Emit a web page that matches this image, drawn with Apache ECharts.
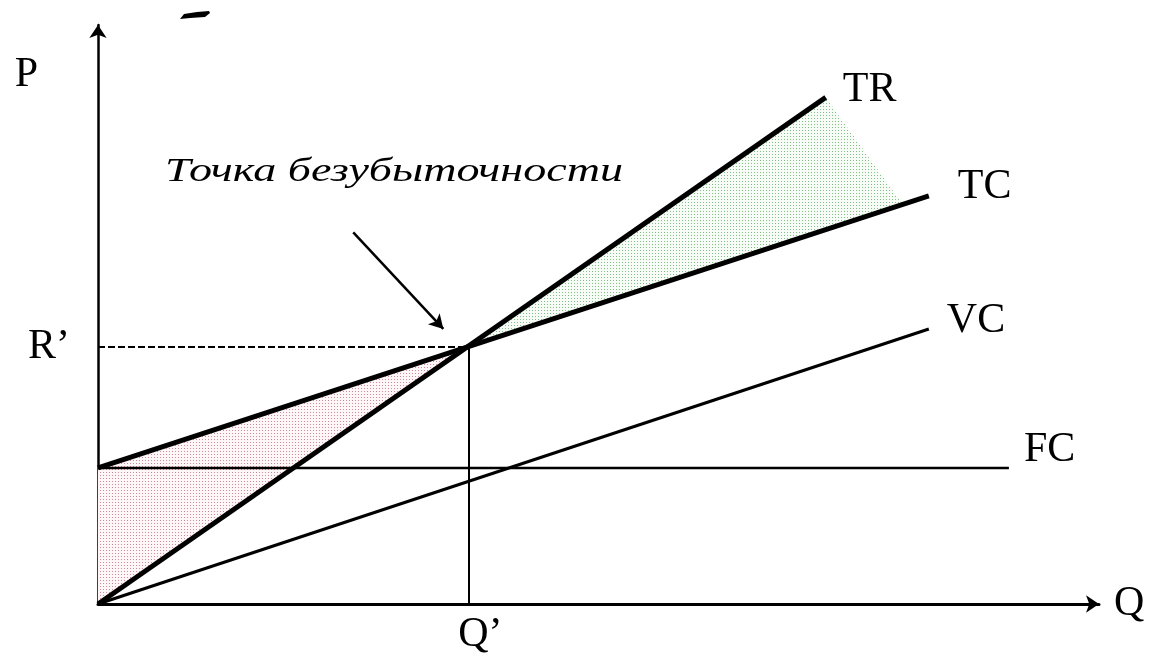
<!DOCTYPE html>
<html>
<head>
<meta charset="utf-8">
<script src="https://cdn.jsdelivr.net/npm/echarts@6/dist/echarts.min.js"></script>
<style>
  html, body { margin: 0; padding: 0; background: #fff; }
  #chart { width: 1149px; height: 656px; }
</style>
</head>
<body>
<div id="chart"></div>
<script>
// линии (Q, P)
var trLine = [[0, 0], [72.7, 87.5]];
var tcLine = [[0, 23.5], [83, 70.5]];
var vcLine = [[0, 0], [83, 47.5]];
var fcLine = [[0, 23.5], [91, 23.5]];
// точка безубыточности
var breakEven = [37, 44.4];
// заштрихованные области
var lossArea = [[0, 23.5], [0, 0], [37, 44.4]];
var profitArea = [[37, 44.4], [72.7, 87.5], [80.4, 69]];
// стрелка-указатель
var pointer = [[25.5, 64.2], [34.5, 47.5]];
var title = 'Точка безубыточности';

var FONT = '"Liberation Serif", "Times New Roman", serif';

function dots(dot, bg) {
  var c = document.createElement('canvas');
  c.width = 3; c.height = 3;
  var ctx = c.getContext('2d');
  ctx.fillStyle = bg;
  ctx.fillRect(0, 0, 3, 3);
  ctx.fillStyle = dot;
  ctx.fillRect(1, 1, 1, 1);
  return { image: c, repeat: 'repeat' };
}

function polygon(points, fill) {
  return {
    type: 'custom',
    silent: true,
    z: 1,
    data: [0],
    renderItem: function (params, api) {
      return {
        type: 'polygon',
        shape: { points: points.map(function (p) { return api.coord(p); }) },
        style: { fill: fill }
      };
    }
  };
}

function curve(name, data, width, off) {
  return {
    type: 'line',
    name: name,
    data: data,
    symbol: 'none',
    z: 3,
    lineStyle: { color: '#000', width: width },
    endLabel: {
      show: true,
      formatter: name,
      distance: 0,
      offset: off,
      color: '#000',
      fontFamily: FONT,
      fontSize: 42
    }
  };
}

var chart = echarts.init(document.getElementById('chart'));

// ширина курсивной подписи подгоняется под картинку
var mctx = document.createElement('canvas').getContext('2d');
mctx.font = 'italic 34px ' + FONT;
var titleScale = 458 / mctx.measureText(title).width;

chart.setOption({
  animation: false,
  backgroundColor: '#fff',
  grid: { left: 98, right: 50, top: 25, bottom: 52 },
  xAxis: {
    type: 'value',
    min: 0,
    max: 100,
    name: 'Q',
    nameLocation: 'end',
    nameGap: 15,
    nameTextStyle: { color: '#000', fontFamily: FONT, fontSize: 42, padding: [52, 0, 0, 0] },
    splitLine: { show: false },
    axisTick: { show: false },
    axisLine: {
      onZero: false,
      symbol: ['none', 'arrow'],
      symbolSize: [13, 13],
      lineStyle: { color: '#000', width: 3 }
    },
    axisLabel: {
      customValues: [breakEven[0]],
      formatter: function () { return 'Q’'; },
      margin: 10,
      padding: [0, 0, 0, 24],
      color: '#000',
      fontFamily: FONT,
      fontSize: 42
    }
  },
  yAxis: {
    type: 'value',
    min: 0,
    max: 100,
    name: 'P',
    nameLocation: 'end',
    nameGap: -50,
    nameTextStyle: {
      color: '#000', fontFamily: FONT, fontSize: 42,
      align: 'right', verticalAlign: 'middle', padding: [0, 60, 0, 0]
    },
    splitLine: { show: false },
    axisTick: { show: false },
    axisLine: {
      onZero: false,
      symbol: ['none', 'arrow'],
      symbolSize: [13, 13],
      lineStyle: { color: '#000', width: 2.5 }
    },
    axisLabel: {
      customValues: [breakEven[1]],
      formatter: function () { return 'R’'; },
      margin: 28,
      color: '#000',
      fontFamily: FONT,
      fontSize: 42
    }
  },
  graphic: [
    {
      type: 'text',
      x: 165,
      y: 155,
      scaleX: titleScale,
      style: {
        text: title,
        font: 'italic 34px ' + FONT,
        fill: '#000',
        textVerticalAlign: 'top'
      }
    },
    {
      type: 'polygon',
      shape: { points: [[180, 19], [184, 14], [197, 12], [209, 11], [210, 13], [205, 17], [190, 18]] },
      style: { fill: '#000' }
    }
  ],
  series: [
    polygon(lossArea, dots('rgb(205,140,155)', 'rgb(254,246,247)')),
    polygon(profitArea, dots('rgb(130,190,135)', 'rgb(247,252,247)')),
    curve('TR', trLine, 5, [17, -7]),
    curve('TC', tcLine, 5, [29, -9]),
    curve('VC', vcLine, 3, [18, -8]),
    curve('FC', fcLine, 2.5, [15, -18]),
    {
      type: 'line',
      data: [],
      z: 4,
      markLine: {
        silent: true,
        animation: false,
        label: { show: false },
        data: [
          [
            { coord: [0, breakEven[1]], symbol: 'none' },
            { coord: breakEven, symbol: 'none', lineStyle: { type: [7, 3], width: 2, color: '#000' } }
          ],
          [
            { coord: breakEven, symbol: 'none' },
            { coord: [breakEven[0], 0], symbol: 'none', lineStyle: { type: 'solid', width: 2, color: '#000' } }
          ],
          [
            { coord: pointer[0], symbol: 'none' },
            { coord: pointer[1], symbol: 'arrow', symbolSize: [12, 14], lineStyle: { type: 'solid', width: 2.5, color: '#000' } }
          ]
        ]
      }
    }
  ]
});
</script>
</body>
</html>
